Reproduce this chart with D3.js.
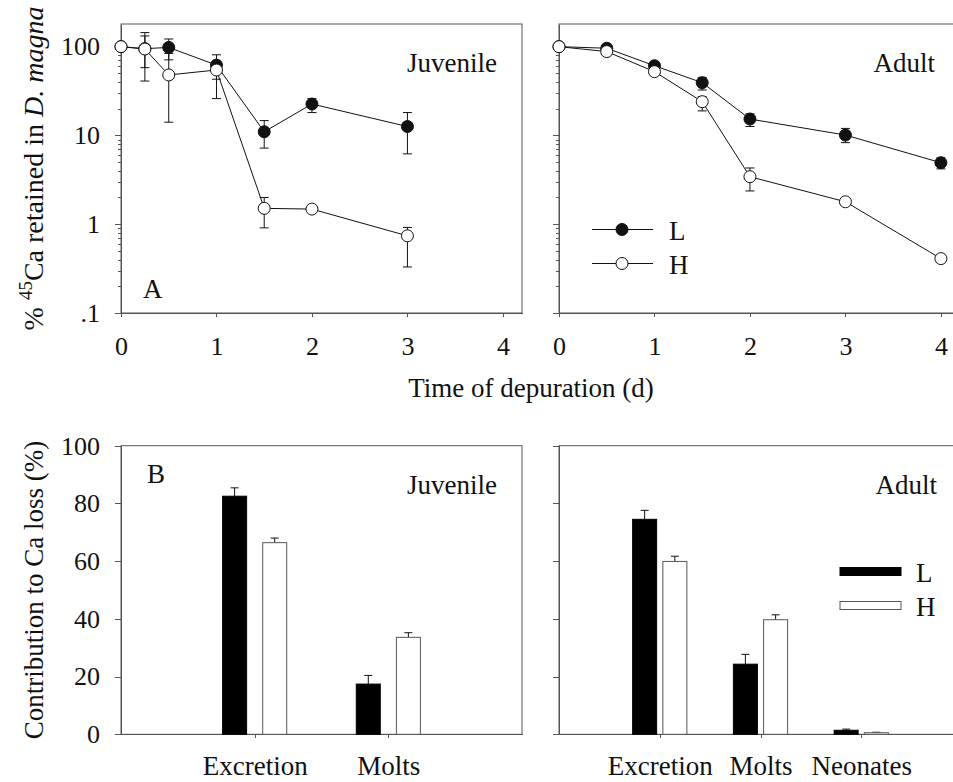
<!DOCTYPE html>
<html>
<head>
<meta charset="utf-8">
<script src="https://d3js.org/d3.v7.min.js"></script>
<style>
  html, body { margin: 0; padding: 0; background: #fff; }
  svg { display: block; }
  .axis path, .axis line { stroke: #555; stroke-width: 1; shape-rendering: crispEdges; }
  .axis text { fill: #111; }
</style>
</head>
<body>
<svg id="chart" width="953" height="782" font-family="Liberation Serif, Times New Roman, serif"></svg>
<script>
// ---- panel A: % 45Ca retained (log scale) ----
var timeJuv = [0, 0.25, 0.5, 1, 1.5, 2, 3];
var juvL    = [100, 95, 98, 62, 11.0, 22.6, 12.6];
var juvLlo  = [100, 58, 71, 43, 7.2, 18.1, 6.2];
var juvLhi  = [100, 132, 122, 81, 14.7, 26, 18.1];
var juvH    = [100, 94, 48, 54.6, 1.51, 1.48, 0.74];
var juvHlo  = [100, 41, 14.1, 26, 0.91, 1.48, 0.33];
var juvHhi  = [100, 144, 84, 66, 2.0, 1.48, 0.92];

var timeAd = [0, 0.5, 1, 1.5, 2, 3, 4];
var adL    = [100, 96, 61, 39.3, 15.3, 10.1, 4.93];
var adLlo  = [100, 90, 57, 32.5, 12.6, 8.3, 4.2];
var adLhi  = [100, 102, 66, 45, 17.5, 12, 5.6];
var adH    = [100, 88, 52.3, 24.0, 3.43, 1.79, 0.41];
var adHlo  = [100, 84, 49, 18.9, 2.37, 1.7, 0.38];
var adHhi  = [100, 92, 55, 27.3, 4.3, 1.9, 0.45];

var timeTicks = [0, 1, 2, 3, 4];
var logTicks = [0.1, 1, 10, 100];
var logTickLabels = [".1", "1", "10", "100"];

// ---- panel B: contribution to Ca loss (%) ----
var catJuv = ["Excretion", "Molts"];
var juvBarL = [82.5, 17.4];
var juvBarLerr = [2.9, 3.0];
var juvBarH = [66.4, 33.6];
var juvBarHerr = [1.6, 1.6];

var catAd = ["Excretion", "Molts", "Neonates"];
var adBarL = [74.5, 24.3, 1.4];
var adBarLerr = [3.1, 3.4, 0.4];
var adBarH = [59.9, 39.7, 0.55];
var adBarHerr = [1.8, 1.7, 0.15];

var pctTicks = [0, 20, 40, 60, 80, 100];

var svg = d3.select("#chart");
var ink = "#111";
var serif = "Liberation Serif, Times New Roman, serif";

function styleAxis(a, size) {
  a.attr("font-family", serif);
  a.selectAll("text").attr("font-size", size).attr("fill", ink);
}

// minor ticks for log axis
var minorTicks = [];
[0.1, 1, 10].forEach(function(d) {
  for (var k = 2; k <= 9; k++) minorTicks.push(+(d * k).toPrecision(3));
});

var yLog = d3.scaleLog().domain([0.1, 180]).range([313, 24]);

function topPanel(x0, x1, labels, tL, L, Llo, Lhi, H, Hlo, Hhi, name, tag) {
  var x = d3.scaleLinear().domain([0, 4.2]).range([x0, x1]);
  var g = svg.append("g");

  // x axis
  g.append("g").attr("class", "axis").attr("transform", "translate(0,313)")
    .call(d3.axisBottom(x).tickValues(timeTicks).tickSize(4).tickSizeOuter(0).tickPadding(20)
      .tickFormat(d3.format("d")))
    .call(styleAxis, 26);

  // y axis major + minor
  var ya = d3.axisLeft(yLog).tickValues(logTicks).tickSize(6).tickSizeOuter(0).tickPadding(15);
  ya.tickFormat(labels ? function(d, i) { return logTickLabels[i]; } : "");
  g.append("g").attr("class", "axis").attr("transform", "translate(" + x0 + ",0)")
    .call(ya)
    .call(styleAxis, 26);
  g.append("g").attr("class", "axis").attr("transform", "translate(" + x0 + ",0)")
    .call(d3.axisLeft(yLog).tickValues(minorTicks).tickSize(3.5).tickSizeOuter(0).tickFormat(""))
    .call(function(a) { a.select(".domain").remove(); });

  // frame
  g.append("rect").attr("x", x0).attr("y", 24).attr("width", x1 - x0).attr("height", 313 - 24)
    .attr("fill", "none").attr("stroke", "#555").attr("stroke-width", 1);

  var line = d3.line().x(function(d) { return x(d[0]); }).y(function(d) { return yLog(d[1]); });

  function series(vals, lo, hi, fill) {
    var pts = tL.map(function(t, i) { return [t, vals[i], lo[i], hi[i]]; });
    g.append("path").datum(pts).attr("d", line)
      .attr("fill", "none").attr("stroke", ink).attr("stroke-width", 1);
    var eb = g.append("g").attr("stroke", ink).attr("stroke-width", 1);
    pts.forEach(function(p) {
      if (p[2] === p[3]) return;
      var cx = x(p[0]);
      eb.append("line").attr("x1", cx).attr("x2", cx).attr("y1", yLog(p[2])).attr("y2", yLog(p[3]));
      eb.append("line").attr("x1", cx - 4.5).attr("x2", cx + 4.5).attr("y1", yLog(p[2])).attr("y2", yLog(p[2]));
      eb.append("line").attr("x1", cx - 4.5).attr("x2", cx + 4.5).attr("y1", yLog(p[3])).attr("y2", yLog(p[3]));
    });
    g.append("g").selectAll("circle").data(pts).join("circle")
      .attr("cx", function(d) { return x(d[0]); })
      .attr("cy", function(d) { return yLog(d[1]); })
      .attr("r", 6).attr("fill", fill).attr("stroke", ink).attr("stroke-width", 1);
  }
  series(L, Llo, Lhi, ink);
  series(H, Hlo, Hhi, "#fff");

  g.append("text").attr("x", x1 - 25).attr("y", 72).attr("text-anchor", "end")
    .attr("font-size", 27).attr("fill", ink).text(name);
  if (tag) {
    g.append("text").attr("x", x0 + 22).attr("y", 298)
      .attr("font-size", 27).attr("fill", ink).text(tag);
  }
  return x;
}

topPanel(121, 522, true, timeJuv, juvL, juvLlo, juvLhi, juvH, juvHlo, juvHhi, "Juvenile", "A");
topPanel(559, 960, false, timeAd, adL, adLlo, adLhi, adH, adHlo, adHhi, "Adult", null);

// legend for panel A
var legA = svg.append("g");
[["L", ink, 229.5], ["H", "#fff", 263.5]].forEach(function(d) {
  legA.append("line").attr("x1", 592).attr("x2", 653).attr("y1", d[2]).attr("y2", d[2])
    .attr("stroke", ink).attr("stroke-width", 1);
  legA.append("circle").attr("cx", 622).attr("cy", d[2]).attr("r", 6)
    .attr("fill", d[1]).attr("stroke", ink);
  legA.append("text").attr("x", 669).attr("y", d[2] + 10).attr("font-size", 27)
    .attr("fill", ink).text(d[0]);
});

// y title A
var tA = svg.append("text").attr("transform", "translate(43,168.5) rotate(-90)")
  .attr("text-anchor", "middle").attr("font-size", 28).attr("fill", ink);
tA.append("tspan").text("% ");
tA.append("tspan").attr("font-size", 19).attr("dy", -11).text("45");
tA.append("tspan").attr("dy", 11).text("Ca retained in ");
tA.append("tspan").attr("font-style", "italic").text("D. magna");

// x title
svg.append("text").attr("x", 531).attr("y", 397).attr("text-anchor", "middle")
  .attr("font-size", 27).attr("fill", ink).text("Time of depuration (d)");

// ---- bottom panels ----
var yPct = d3.scaleLinear().domain([0, 100]).range([734.3, 445.7]);

function barPanel(x0, x1, cats, L, Lerr, H, Herr, name, tag, labels) {
  var x = d3.scaleLinear().domain([0, cats.length + 1]).range([x0, x1]);
  var g = svg.append("g");
  var pos = cats.map(function(c, i) { return i + 1; });

  g.append("g").attr("class", "axis").attr("transform", "translate(0,734.3)")
    .call(d3.axisBottom(x).tickValues(pos).tickSize(4).tickSizeOuter(0).tickPadding(18)
      .tickFormat(function(d) { return cats[d - 1]; }))
    .call(styleAxis, 27);

  g.append("g").attr("class", "axis").attr("transform", "translate(" + x0 + ",0)")
    .call(d3.axisLeft(yPct).tickValues(pctTicks).tickSize(6).tickSizeOuter(0).tickPadding(15)
      .tickFormat(labels ? d3.format("d") : ""))
    .call(styleAxis, 26);

  g.append("rect").attr("x", x0).attr("y", 445.7).attr("width", x1 - x0).attr("height", 734.3 - 445.7)
    .attr("fill", "none").attr("stroke", "#555").attr("stroke-width", 1);

  var bw = 24;
  function bars(vals, errs, off, fill, stroke) {
    vals.forEach(function(v, i) {
      var cx = x(pos[i] + off);
      g.append("line").attr("x1", cx).attr("x2", cx).attr("y1", yPct(v)).attr("y2", yPct(v + errs[i]))
        .attr("stroke", ink).attr("stroke-width", 1);
      g.append("line").attr("x1", cx - 4).attr("x2", cx + 4).attr("y1", yPct(v + errs[i])).attr("y2", yPct(v + errs[i]))
        .attr("stroke", ink).attr("stroke-width", 1);
      g.append("rect").attr("x", cx - bw / 2).attr("y", yPct(v)).attr("width", bw)
        .attr("height", yPct(0) - yPct(v)).attr("fill", fill).attr("stroke", stroke).attr("stroke-width", 1);
    });
  }
  bars(L, Lerr, -0.15, "#000", "#000");
  bars(H, Herr, 0.15, "#fff", "#555");

  g.append("text").attr("x", x1 - 25).attr("y", 494).attr("text-anchor", "end")
    .attr("font-size", 27).attr("fill", ink).text(name);
  if (tag) {
    g.append("text").attr("x", x0 + 26).attr("y", 483)
      .attr("font-size", 27).attr("fill", ink).text(tag);
  }
}

barPanel(121, 522, catJuv, juvBarL, juvBarLerr, juvBarH, juvBarHerr, "Juvenile", "B", true);
barPanel(559, 962, catAd, adBarL, adBarLerr, adBarH, adBarHerr, "Adult", null, false);

// legend for panel B
var legB = svg.append("g");
[["L", "#000", "#000", 567.5], ["H", "#fff", "#555", 601.5]].forEach(function(d) {
  legB.append("rect").attr("x", 840).attr("y", d[3]).attr("width", 61).attr("height", 8)
    .attr("fill", d[1]).attr("stroke", d[2]).attr("stroke-width", 1);
  legB.append("text").attr("x", 916).attr("y", d[3] + 14).attr("font-size", 27)
    .attr("fill", ink).text(d[0]);
});

// y title B
svg.append("text").attr("transform", "translate(43,590) rotate(-90)")
  .attr("text-anchor", "middle").attr("font-size", 27).attr("fill", ink)
  .text("Contribution to Ca loss (%)");
</script>
</body>
</html>
